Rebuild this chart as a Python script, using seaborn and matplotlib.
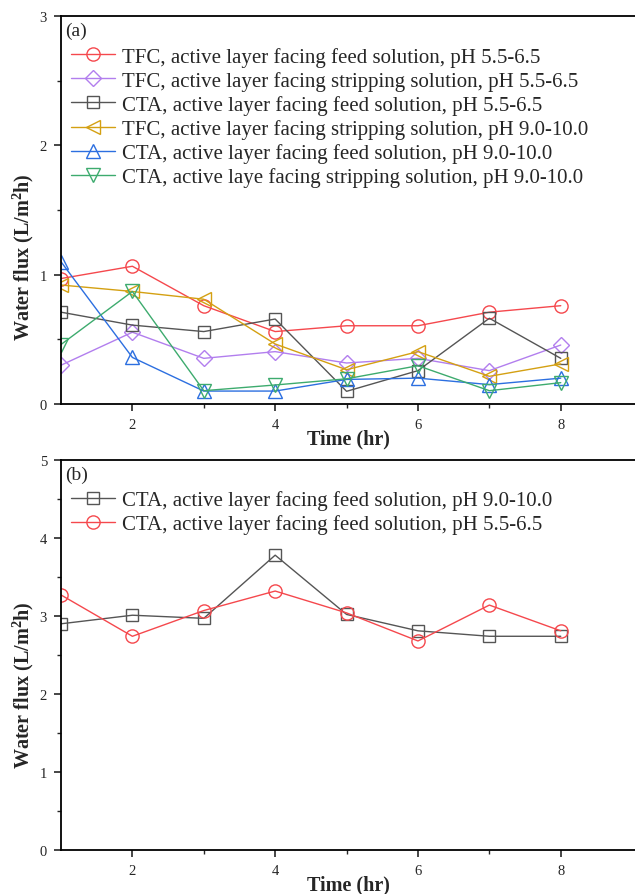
import numpy as np
import pandas as pd
import matplotlib
matplotlib.use("Agg")
import matplotlib.pyplot as plt
from matplotlib.ticker import FixedLocator, MultipleLocator
import seaborn as sns

# ---- data ----
time = [1, 2, 3, 4, 5, 6, 7, 8]

a_labels = [
    "TFC, active layer facing feed solution, pH 5.5-6.5",
    "TFC, active layer facing stripping solution, pH 5.5-6.5",
    "CTA, active layer facing feed solution, pH 5.5-6.5",
    "TFC, active layer facing stripping solution, pH 9.0-10.0",
    "CTA, active layer facing feed solution, pH 9.0-10.0",
    "CTA, active laye facing stripping solution, pH 9.0-10.0",
]
tfc_feed_55 = [0.97, 1.065, 0.76, 0.56, 0.605, 0.605, 0.71, 0.76]
tfc_strip_55 = [0.30, 0.555, 0.353, 0.405, 0.317, 0.353, 0.258, 0.456]
cta_feed_55 = [0.71, 0.61, 0.56, 0.657, 0.098, 0.258, 0.663, 0.353]
tfc_strip_90 = [0.92, 0.87, 0.81, 0.464, 0.265, 0.405, 0.214, 0.31]
cta_feed_90 = [1.10, 0.36, 0.10, 0.10, 0.19, 0.20, 0.15, 0.20]
cta_strip_90 = [0.46, 0.87, 0.103, 0.147, 0.195, 0.296, 0.103, 0.165]

b_labels = [
    "CTA, active layer facing feed solution, pH 9.0-10.0",
    "CTA, active layer facing feed solution, pH 5.5-6.5",
]
b_cta_feed_90 = [2.90, 3.01, 2.97, 3.78, 3.02, 2.81, 2.74, 2.74]
b_cta_feed_55 = [3.27, 2.74, 3.07, 3.32, 3.04, 2.68, 3.14, 2.81]

# ---- style ----
sns.set_theme(style="ticks")
plt.rcParams["font.family"] = ["Liberation Serif", "DejaVu Serif"]
plt.rcParams["mathtext.fontset"] = "custom"
plt.rcParams["mathtext.rm"] = "Liberation Serif"
plt.rcParams["mathtext.bf"] = "Liberation Serif:bold"
plt.rcParams["xtick.direction"] = "out"
plt.rcParams["ytick.direction"] = "out"

red = "#F5484D"
purple = "#B27EEE"
gray = "#555555"
gold = "#D4A012"
blue = "#2C6FE0"
green = "#3DAB6E"

a_series = [tfc_feed_55, tfc_strip_55, cta_feed_55, tfc_strip_90, cta_feed_90, cta_strip_90]
a_colors = [red, purple, gray, gold, blue, green]
a_markers = ["o", "D", "s", "<", "^", "v"]
a_msize = [9.5, 8, 8, 10, 10, 10]

b_series = [b_cta_feed_90, b_cta_feed_55]
b_colors = [gray, red]
b_markers = ["s", "o"]
b_msize = [8, 9.5]

W, H = 635, 895
fig = plt.figure(figsize=(W / 100, H / 100), dpi=100)
left = 61 / W
width = 574 / W
ax_a = fig.add_axes([left, (H - 405) / H, width, 388 / H])
ax_b = fig.add_axes([left, (H - 851) / H, width, 390 / H])


def draw(ax, series, labels, colors, markers, msizes):
    for vals, lab, col, mk, ms in zip(series, labels, colors, markers, msizes):
        df = pd.DataFrame({"Time": time, "Flux": vals})
        sns.lineplot(data=df, x="Time", y="Flux", ax=ax, color=col, marker=mk,
                     markersize=ms, markerfacecolor="none", markeredgecolor=col,
                     markeredgewidth=1.0, linewidth=1.0, label=lab)


draw(ax_a, a_series, a_labels, a_colors, a_markers, a_msize)
draw(ax_b, b_series, b_labels, b_colors, b_markers, b_msize)

for ax, ymax, lab, leg_y, ylab_pos in [(ax_a, 3, "(a)", 0.953, 0.38), (ax_b, 5, "(b)", 0.954, 0.425)]:
    ax.set_xlim(1, 9.04)
    ax.set_ylim(0, ymax)
    ax.xaxis.set_major_locator(FixedLocator([2, 4, 6, 8]))
    ax.xaxis.set_minor_locator(FixedLocator([3, 5, 7]))
    ax.yaxis.set_major_locator(MultipleLocator(1))
    ax.yaxis.set_minor_locator(MultipleLocator(0.5))
    ax.tick_params(which="major", length=5, width=1.2, labelsize=10.5, pad=5)
    ax.tick_params(which="minor", length=3, width=1.0)
    for s in ["left", "bottom", "top"]:
        ax.spines[s].set_linewidth(1.3)
        ax.spines[s].set_color("black")
    ax.spines["right"].set_visible(False)
    ax.set_xlabel("Time (hr)", fontsize=14.5, fontweight="bold", labelpad=-2)
    ax.set_ylabel(r"Water flux (L/m$^{\mathbf{2}}$h)", fontsize=14.5, fontweight="bold")
    ax.yaxis.set_label_coords(-0.043, ylab_pos)
    ax.text(0.008, 0.985, lab, transform=ax.transAxes, ha="left", va="top", fontsize=14)
    ax.legend(loc="upper left", bbox_to_anchor=(-0.005, leg_y), frameon=False,
              fontsize=15, handlelength=2.15, handletextpad=0.33, labelspacing=0.2,
              borderaxespad=0.2, markerscale=1.0)

fig.savefig("out.png", dpi=100)
